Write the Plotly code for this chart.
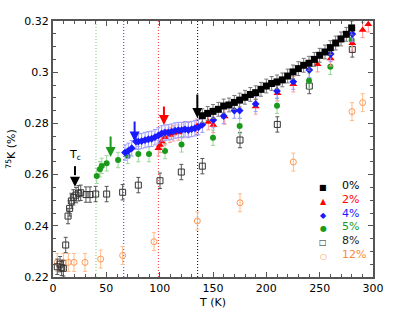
import plotly.graph_objects as go

# 0% (filled black squares)
t_0 = [140, 145, 150, 155, 160, 165, 170, 175, 180, 185, 190, 195, 200, 205, 210,
       215, 220, 225, 230, 235, 240, 245, 250, 255, 260, 265, 270, 275, 280]
k_0 = [0.2830, 0.2839, 0.2847, 0.2855, 0.2868, 0.2872, 0.2882, 0.2891, 0.2902, 0.2913,
       0.2920, 0.2933, 0.2946, 0.2956, 0.2962, 0.2970, 0.2985, 0.3001, 0.3014, 0.3027,
       0.3035, 0.3050, 0.3066, 0.3079, 0.3096, 0.3114, 0.3130, 0.3148, 0.3173]

# 2% (red triangles)
t_2 = [98.8, 100.3, 101.9, 105, 109.7, 112.8, 117.5, 122.2, 126.8, 134.7, 145.6, 150.3,
       161, 190, 210.5, 225.3, 248, 260.3, 280.6, 290.3, 295.6]
k_2 = [0.2703, 0.2716, 0.2729, 0.2746, 0.2755, 0.2761, 0.2764, 0.2774, 0.2777, 0.2787,
       0.2805, 0.2794, 0.2827, 0.2866, 0.2918, 0.2953, 0.3031, 0.3054, 0.3113, 0.3165, 0.3187]

# 4% (blue diamonds)
t_4 = [67.5, 70.6, 73.8, 77.8, 80, 83.1, 86.3, 89.4, 92.5, 95.6, 98.8, 101.9, 105, 108.1,
       111.2, 114.4, 117.5, 120.6, 123.8, 126.9, 130, 133.1, 136.3, 140, 150.3, 160, 170,
       175, 190, 210, 225.3, 240.3, 260.3, 280.6]
k_4 = [0.2686, 0.2693, 0.2703, 0.2729, 0.2729, 0.2731, 0.2735, 0.2738, 0.2740, 0.2746,
       0.2753, 0.2761, 0.2764, 0.2765, 0.2768, 0.2772, 0.2774, 0.2774, 0.2777, 0.2774,
       0.2778, 0.2781, 0.2785, 0.2795, 0.2813, 0.2829, 0.2850, 0.2850, 0.2876, 0.2927,
       0.2963, 0.3009, 0.3071, 0.3149]

# 5% (green circles)
t_5 = [41, 44, 45.7, 50.3, 61, 70, 80, 90, 105, 120.5, 150, 175, 210, 240, 260, 280]
k_5 = [0.2595, 0.2621, 0.2634, 0.2644, 0.2657, 0.2673, 0.2680, 0.2680, 0.2692, 0.2718,
       0.2744, 0.2790, 0.2869, 0.2967, 0.3021, 0.3126]

# 8% (open squares)
t_8 = [4, 6.6, 8.1, 9.7, 11.9, 14.1, 15.6, 17.2, 19.1, 21.6, 23.8, 26, 30.9, 34.7, 40,
       50.3, 65.3, 80, 100.3, 120.3, 140, 175.3, 210.3, 240.3, 280.6]
k_8 = [0.2240, 0.2250, 0.2236, 0.2234, 0.2325, 0.2438, 0.2468, 0.2497, 0.2511, 0.2520,
       0.2527, 0.2529, 0.2522, 0.2522, 0.2524, 0.2524, 0.2531, 0.2559, 0.2576, 0.2610,
       0.2633, 0.2735, 0.2796, 0.2946, 0.3089]

# 12% (open circles)
t_12 = [4, 9.7, 14.4, 19.7, 30, 44.7, 65.3, 94.7, 135.3, 175.3, 225.3, 280.3, 290.3]
k_12 = [0.2257, 0.2257, 0.2257, 0.2257, 0.2257, 0.2270, 0.2284, 0.2338, 0.2419, 0.2490,
        0.2649, 0.2846, 0.2881]

# transition temperatures marked with dotted lines
t_lines = [40.3, 66.3, 98.8, 135.6]
line_colors = ["#77cc77", "#3333ff", "#ff3333", "#000000"]

font = "DejaVu Sans"

fig = go.Figure()

def add_series(t, k, err, color, ecolor, symbol, size, name):
    marker = dict(color=color, symbol=symbol, size=size)
    if symbol.endswith("-open"):
        marker["line"] = dict(color=color, width=1)
    fig.add_trace(go.Scatter(
        x=t, y=k, mode="markers", name=name, marker=marker,
        error_y=dict(type="constant", value=err, color=ecolor, thickness=1, width=2),
        showlegend=False,
    ))

add_series(t_12, k_12, 0.0035, "#ff9955", "#ffbb88", "circle-open", 6, "12%")
add_series(t_8, k_8, 0.003, "#333333", "#555555", "square-open", 6, "8%")
add_series(t_5, k_5, 0.003, "#1a9a1a", "#99d699", "circle", 6, "5%")
add_series(t_2, k_2, 0.003, "#ff0000", "#ff9999", "triangle-up", 7, "2%")
add_series(t_4, k_4, 0.003, "#1a1aff", "#9999ff", "diamond", 6, "4%")
add_series(t_0, k_0, 0.0027, "#000000", "#777777", "square", 7, "0%")

shapes = []
for tl, c in zip(t_lines, line_colors):
    shapes.append(dict(type="line", xref="x", yref="paper", x0=tl, x1=tl, y0=0, y1=1,
                       line=dict(color=c, width=1, dash="1px,2px"), layer="below"))

# dashed shaft of the Tc arrow
shapes.append(dict(type="line", xref="x", yref="y", x0=20.6, x1=20.6, y0=0.2633, y1=0.2575,
                   line=dict(color="black", width=2, dash="dash")))

annotations = []
arrows = [
    (54, 0.2755, 0.2669, "#1a9a1a"),
    (76.5, 0.2813, 0.2729, "#1a1aff"),
    (104, 0.2872, 0.2794, "#ff0000"),
    (135.3, 0.2919, 0.2821, "#000000"),
    (20.6, 0.2580, 0.2553, "#000000"),
]
for x, y0, y1, c in arrows:
    annotations.append(dict(x=x, y=y1, ax=x, ay=y0, xref="x", yref="y", axref="x", ayref="y",
                            text="", showarrow=True, arrowhead=2, arrowsize=1,
                            arrowwidth=2, arrowcolor=c))

annotations.append(dict(x=20.6, y=0.2677, xref="x", yref="y", text="T<sub>c</sub>",
                        showarrow=False, font=dict(family=font, size=11, color="black")))

# hand-made legend
leg_sym = ["■", "▲", "◆", "●", "□", "○"]
leg_txt = ["0%", "2%", "4%", "5%", "8%", "12%"]
leg_col = ["#000000", "#ff0000", "#1a1aff", "#1a9a1a", "#222222", "#ff8833"]
leg_y = [0.324, 0.270, 0.215, 0.164, 0.109, 0.055]
for s, t, c, yy in zip(leg_sym, leg_txt, leg_col, leg_y):
    annotations.append(dict(x=0.863, y=yy, xref="paper", yref="paper", text=s, showarrow=False,
                            font=dict(family=font, size=8, color=c)))
    annotations.append(dict(x=0.898, y=yy, xref="paper", yref="paper", text=t, showarrow=False,
                            xanchor="left", font=dict(family=font, size=11, color=c)))

axis_common = dict(showline=True, linecolor="#555555", linewidth=2, mirror="ticks",
                   ticks="inside", ticklen=5, tickcolor="#555555", tickwidth=1,
                   showgrid=False, zeroline=False,
                   tickfont=dict(family=font, size=11, color="black"))

fig.update_layout(
    width=415, height=321,
    margin=dict(l=53, r=42, t=21, b=44),
    paper_bgcolor="white", plot_bgcolor="white",
    shapes=shapes, annotations=annotations,
    xaxis=dict(range=[0, 300], dtick=50, tick0=0,
               minor=dict(dtick=10, ticks="inside", ticklen=3, tickcolor="#555555"),
               title=dict(text="T (K)", font=dict(family=font, size=11, color="black"), standoff=4),
               **axis_common),
    yaxis=dict(range=[0.22, 0.32], dtick=0.02, tick0=0.22,
               minor=dict(dtick=0.005, ticks="inside", ticklen=3, tickcolor="#555555"),
               title=dict(text="<sup>75</sup>K (%)", font=dict(family=font, size=11, color="black"), standoff=6),
               **axis_common),
)

fig.write_html("out.html", config={"displayModeBar": False},
               post_script="document.body.style.margin='0';")
